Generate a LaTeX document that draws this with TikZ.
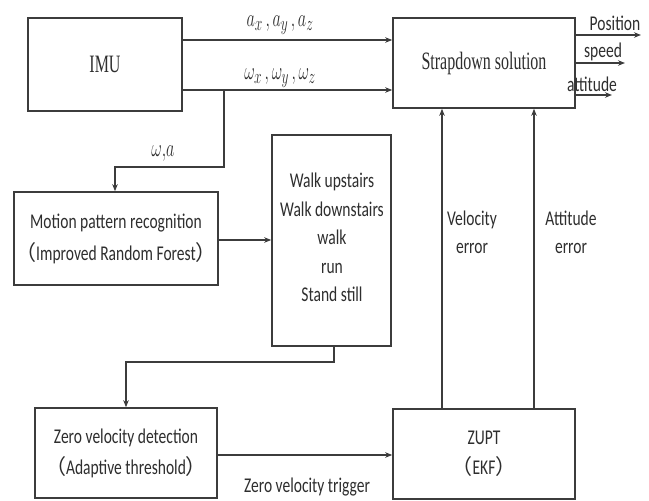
\documentclass[tikz,border=0pt]{standalone}
\usepackage{fontspec}
\usepackage{graphicx}
\usetikzlibrary{arrows.meta}
\newfontfamily\labfont[FakeStretch=0.74]{Carlito}
\newfontfamily\serfont[FakeStretch=0.64]{Liberation Serif}
\newfontfamily\cjkfont{Noto Sans CJK SC}
\newcommand{\lp}{{\cjkfont （}}
\newcommand{\rp}{{\cjkfont ）}}
\newcommand{\mlab}[1]{\scalebox{0.65}[1]{\fontsize{30}{30}\selectfont$#1$}}
\definecolor{ink}{HTML}{3C3C3C}
\definecolor{txt}{HTML}{2E2E2E}
\begin{document}
\begin{tikzpicture}[x=1pt,y=-1pt,
  box/.style={draw=ink,line width=1.6pt,fill=white,inner sep=0pt,anchor=center,
    text=txt,align=center},
  lab/.style={text=txt,inner sep=0pt,align=center,
    font=\labfont\fontsize{21}{28}\selectfont},
  ser/.style={font=\serfont\fontsize{25}{28}\selectfont},
  arr/.style={draw=ink,line width=1.3pt,-{Stealth[length=7pt,width=5.5pt]}},
  wire/.style={draw=ink,line width=1.3pt}]
\useasboundingbox (0,0) rectangle (649,501);

% blocks
\node[box,ser,minimum width=154pt,minimum height=93pt] (imu) at (105,64.5) {IMU};
\node[box,ser,minimum width=182pt,minimum height=90pt] (sd) at (484,63) {Strapdown solution};
\node[box,lab,minimum width=204pt,minimum height=93pt,
  font=\labfont\fontsize{21}{32}\selectfont] (mpr) at (116,238.5)
  {Motion pattern recognition\\\lp Improved Random Forest\rp};
\node[box,lab,minimum width=119pt,minimum height=211pt] (act) at (331.5,240.5) {};
\node[lab,font=\labfont\fontsize{21}{28.5}\selectfont,anchor=north] (actlist) at (332,173)
  {Walk upstairs\\Walk downstairs\\walk\\run\\Stand still};
\node[box,lab,minimum width=182pt,minimum height=90pt,
  font=\labfont\fontsize{21}{31}\selectfont] (zvd) at (126,453)
  {Zero velocity detection\\\lp Adaptive threshold\rp};
\node[box,lab,minimum width=182pt,minimum height=90pt,
  font=\labfont\fontsize{21}{30}\selectfont] (zupt) at (484,454)
  {ZUPT\\\lp EKF\rp};

% routing points
\coordinate (ya) at (0,40);
\coordinate (yw) at (0,90);
\coordinate (br) at (224,90);
\coordinate (b1) at (115,167);
\coordinate (ym) at (0,240);
\coordinate (xa) at (334,0);
\coordinate (b2) at (126,362);
\coordinate (yz) at (0,455);
\coordinate (xv) at (442,0);
\coordinate (xt) at (534,0);
\coordinate (op) at (641,35);
\coordinate (os) at (625,63);
\coordinate (oa) at (612,95);

% signal flow
\draw[arr] (imu.east |- ya) -- (sd.west |- ya);
\draw[arr] (imu.east |- yw) -- (sd.west |- yw);
\draw[arr] (br) |- (b1) -- (b1 |- mpr.north);
\draw[arr] (mpr.east |- ym) -- (act.west |- ym);
\draw[arr] (act.south -| xa) |- (b2) -- (b2 |- zvd.north);
\draw[arr] (zvd.east |- yz) -- (zupt.west |- yz);
\draw[arr] (zupt.north -| xv) -- (sd.south -| xv);
\draw[arr] (zupt.north -| xt) -- (sd.south -| xt);
\draw[arr] (sd.east |- op) -- (op);
\draw[arr] (sd.east |- os) -- (os);
\draw[arr] (sd.east |- oa) -- (oa);

% labels
\node[text=txt,inner sep=0pt] (la) at (280,25) {\mlab{a_x\,,a_y\,,a_z}};
\node[text=txt,inner sep=0pt] (lw) at (280,78) {\mlab{\omega_x\,,\omega_y\,,\omega_z}};
\node[text=txt,inner sep=0pt] (lwa) at (163,154) {\mlab{\omega,\!a}};
\node[lab] (lpos) at (615,23) {Position};
\node[lab] (lspd) at (603,52) {speed};
\node[lab] (latt) at (592,84) {attitude};
\node[lab] (lve) at (472,232) {Velocity\\error};
\node[lab] (lae) at (571,232) {Attitude\\error};
\node[lab] (lzt) at (307,487) {Zero velocity trigger};
\end{tikzpicture}
\end{document}
